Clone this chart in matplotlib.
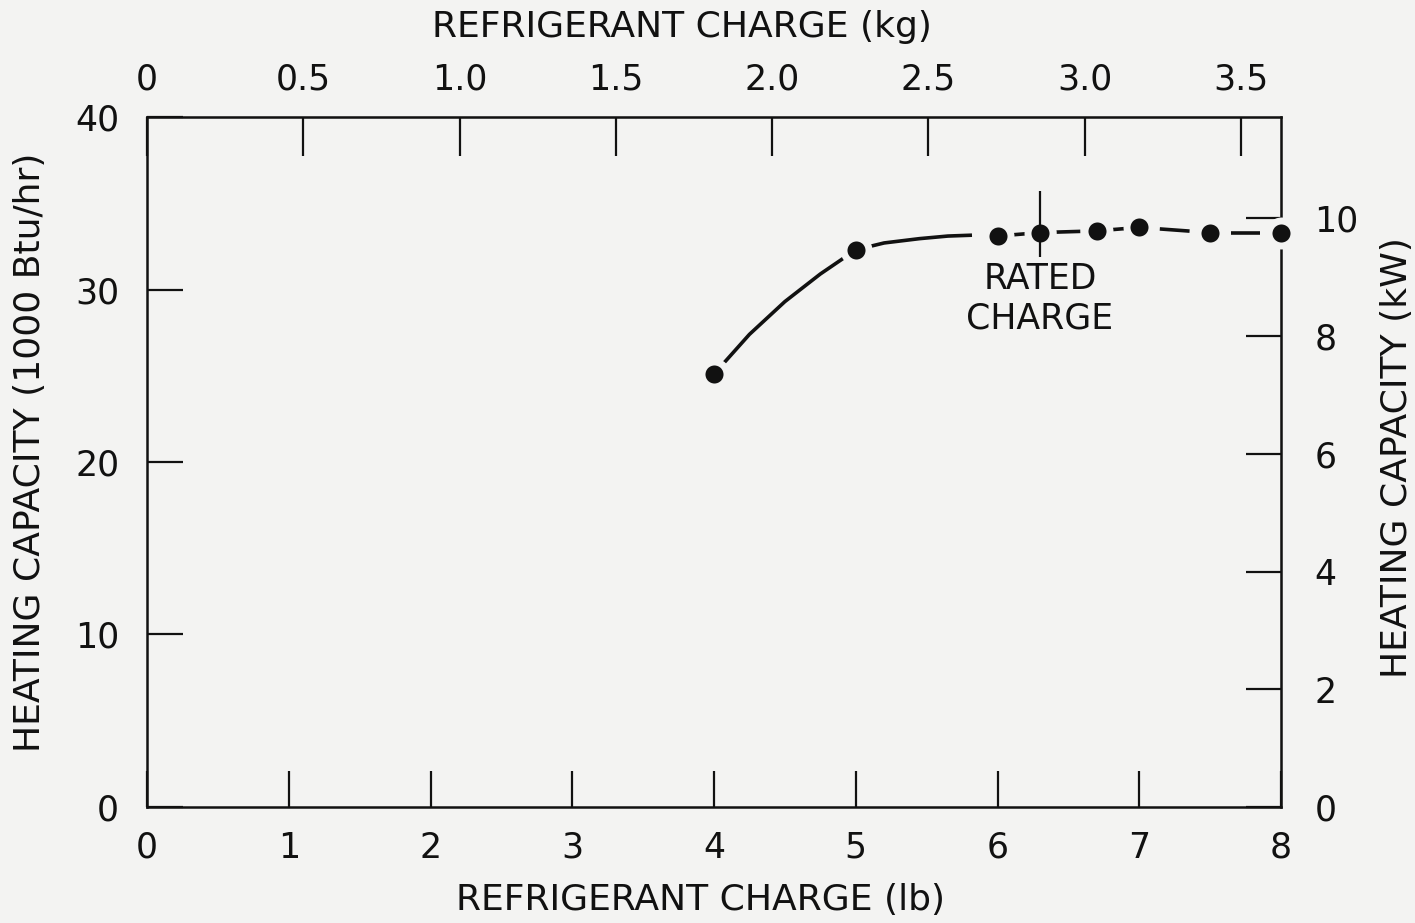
import numpy as np
import matplotlib
matplotlib.use("Agg")
from matplotlib import pyplot as plt

# donnees
chargeLb = [4.0, 5.0, 6.0, 6.3, 6.7, 7.0, 7.5, 8.0]
capacity = [25.1, 32.3, 33.1, 33.3, 33.4, 33.6, 33.3, 33.3]

# courbe tracee a la main (partie pleine)
curveLb = [4.0, 4.25, 4.5, 4.75, 5.0, 5.2, 5.45, 5.65, 5.82]
curveCap = [25.1, 27.4, 29.3, 30.9, 32.3, 32.7, 32.95, 33.1, 33.15]

ratedLb = 6.3
ratedCap = 33.3

lbTicks = [0, 1, 2, 3, 4, 5, 6, 7, 8]
capTicks = [0, 10, 20, 30, 40]
kgTicks = [0, 0.5, 1.0, 1.5, 2.0, 2.5, 3.0, 3.5]
kgLabels = ["0", "0.5", "1.0", "1.5", "2.0", "2.5", "3.0", "3.5"]
kwTicks = [0, 2, 4, 6, 8, 10]

LB_PER_KG = 2.2046
KBTU_PER_KW = 3.412

bg = "#f3f3f2"
ink = "#111111"
fs = 25
lfs = 26

fig = plt.figure(figsize=(14.15, 9.23), dpi=100, facecolor=bg)
ax = fig.add_axes([0.1039, 0.1257, 0.8014, 0.7475])
ax.set_facecolor(bg)

ax.set_xlim(0, 8)
ax.set_ylim(0, 40)

# courbe pleine
ax.plot(curveLb, curveCap, color=ink, lw=2.6, solid_capstyle="butt", zorder=2)

# tirets entre les points au-dela de 6 lb (partie centrale de chaque intervalle)
frac = 0.42
for i in range(2, len(chargeLb) - 1):
    x0, x1 = chargeLb[i], chargeLb[i + 1]
    y0, y1 = capacity[i], capacity[i + 1]
    t0, t1 = 0.5 - frac / 2, 0.5 + frac / 2
    ax.plot([x0 + (x1 - x0) * t0, x0 + (x1 - x0) * t1],
            [y0 + (y1 - y0) * t0, y0 + (y1 - y0) * t1],
            color=ink, lw=2.6, solid_capstyle="butt", zorder=2)

# points avec un anneau couleur fond pour couper la courbe
ax.plot(chargeLb, capacity, "o", color=ink, markersize=18,
        markeredgecolor=bg, markeredgewidth=5, zorder=3, clip_on=False)

# repere charge nominale
ax.vlines(ratedLb, ratedCap - 1.4, ratedCap + 2.4, color=ink, lw=1.6, zorder=4)
ax.text(ratedLb, ratedCap - 3.85, "RATED\nCHARGE", ha="center", va="center",
        fontsize=fs, color=ink, linespacing=1.2)

for s in ax.spines.values():
    s.set_linewidth(1.8)
    s.set_color(ink)

ax.set_xticks(lbTicks)
ax.set_yticks(capTicks)
ax.tick_params(axis="x", direction="in", length=26, width=1.6, pad=17,
               labelsize=fs, colors=ink)
ax.tick_params(axis="y", direction="in", length=26, width=1.6, pad=20,
               labelsize=fs, colors=ink)

# axe du haut en kg
top = ax.secondary_xaxis("top", functions=(lambda x: x / LB_PER_KG, lambda x: x * LB_PER_KG))
top.set_xticks(kgTicks)
top.set_xticklabels(kgLabels)
top.tick_params(direction="in", length=28, width=1.6, pad=15, labelsize=fs, colors=ink)

# axe de droite en kW
right = ax.secondary_yaxis("right", functions=(lambda y: y / KBTU_PER_KW, lambda y: y * KBTU_PER_KW))
right.set_yticks(kwTicks)
right.tick_params(direction="in", length=25, width=1.6, pad=24, labelsize=fs, colors=ink)

# titres des axes
fig.text(0.4947, 0.0249, "REFRIGERANT CHARGE (lb)", fontsize=lfs, color=ink,
         ha="center", va="center")
fig.text(0.482, 0.9707, "REFRIGERANT CHARGE (kg)", fontsize=lfs, color=ink,
         ha="center", va="center")
fig.text(0.0212, 0.5103, "HEATING CAPACITY (1000 Btu/hr)", fontsize=lfs, color=ink,
         ha="center", va="center", rotation=90)
fig.text(0.9873, 0.504, "HEATING CAPACITY (kW)", fontsize=lfs, color=ink,
         ha="center", va="center", rotation=90)

fig.savefig("out.png", dpi=100, facecolor=bg)
